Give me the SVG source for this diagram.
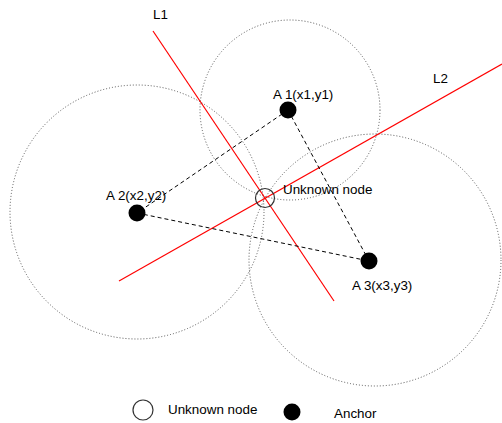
<svg xmlns="http://www.w3.org/2000/svg" width="502" height="423" viewBox="0 0 502 423">
<style>
.range{fill:none;stroke:#555;stroke-width:1;stroke-dasharray:1 2}
.red{stroke:#ff0000;stroke-width:1.2;fill:none}
.dash{stroke:#000;stroke-width:1;stroke-dasharray:4 3;fill:none}
.anchor{fill:#000}
.unk{fill:#fff;fill-opacity:0;stroke:#333;stroke-width:1.2}
text{font-family:"Liberation Sans",Arial,sans-serif;font-size:13.4px;fill:#000}
</style>
<rect width="502" height="423" fill="#fff"/>
<g id="ranges">
<circle class="range" cx="290" cy="110" r="90"/>
<circle class="range" cx="137" cy="212" r="127"/>
<circle class="range" cx="375" cy="260" r="126"/>
</g>
<g id="connectors">
<line class="red" x1="153" y1="31" x2="334" y2="301"/>
<line class="red" x1="119" y1="281" x2="502" y2="64"/>
<line class="dash" x1="288" y1="110" x2="137" y2="213"/>
<line class="dash" x1="288" y1="110" x2="369" y2="261"/>
<line class="dash" x1="137" y1="213" x2="369" y2="261"/>
</g>
<g id="L1"><text x="153" y="19">L1</text></g>
<g id="L2"><text x="433" y="83">L2</text></g>
<g id="A1"><circle class="anchor" cx="288" cy="110" r="8.5"/><text x="273" y="99">A 1(x1,y1)</text></g>
<g id="A2"><circle class="anchor" cx="137" cy="213" r="8.5"/><text x="106" y="200">A 2(x2,y2)</text></g>
<g id="A3"><circle class="anchor" cx="369" cy="261" r="8.5"/><text x="352" y="290">A 3(x3,y3)</text></g>
<g id="unknown"><circle class="unk" cx="265" cy="198" r="9.5"/><text x="283" y="194">Unknown node</text></g>
<g id="legend">
<circle class="unk" cx="143" cy="410" r="10"/><text x="168" y="414">Unknown node</text>
<circle class="anchor" cx="292" cy="412" r="8.5"/><text x="334" y="418">Anchor</text>
</g>
</svg>
